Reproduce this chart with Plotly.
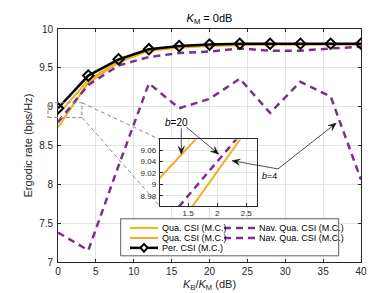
import math
import plotly.graph_objects as go

# ---------------- data ----------------
x_db = [0, 4, 8, 12, 16, 20, 24, 28, 32, 36, 40]
per_csi = [8.98, 9.40, 9.61, 9.74, 9.78, 9.80, 9.81, 9.81, 9.81, 9.81, 9.81]
qua_b20 = [8.90, 9.34, 9.59, 9.73, 9.77, 9.79, 9.80, 9.80, 9.80, 9.80, 9.80]
qua_b4 = [8.735, 9.31, 9.57, 9.72, 9.76, 9.78, 9.79, 9.80, 9.80, 9.80, 9.80]
nav_b20 = [8.80, 9.28, 9.53, 9.64, 9.69, 9.71, 9.75, 9.72, 9.72, 9.75, 9.77]
nav_b4 = [7.38, 7.15, 8.24, 9.30, 8.98, 9.10, 9.36, 8.92, 9.32, 9.13, 8.06]

x_ticks = [0, 5, 10, 15, 20, 25, 30, 35, 40]
y_ticks = [7, 7.5, 8, 8.5, 9, 9.5, 10]
inset_x_ticks = [1.5, 2, 2.5]
inset_y_ticks = [8.98, 9, 9.02, 9.04, 9.06]

legend_labels = ["Qua. CSI (M.C.)", "Qua. CSI (M.C.)", "Per. CSI (M.C.)",
                 "Nav. Qua. CSI (M.C.)", "Nav. Qua. CSI (M.C.)"]

YEL = "#EDB120"
PUR = "#7E2F8E"
BLK = "#000000"
AX = "#262626"
GRID = "#e4e4e4"
FONT = "Liberation Sans, Arial, sans-serif"
DASH = "7px,5px"

fig = go.Figure()

series = [
    ("Qua. CSI (M.C.)", qua_b4, YEL, "solid", 2),
    ("Qua. CSI (M.C.)", qua_b20, YEL, "solid", 2),
    ("Nav. Qua. CSI (M.C.)", nav_b20, PUR, DASH, 2.5),
    ("Nav. Qua. CSI (M.C.)", nav_b4, PUR, DASH, 2.5),
]
for xa, ya in [("x", "y"), ("x2", "y2")]:
    for name, vals, col, dash, w in series:
        fig.add_trace(go.Scatter(x=x_db, y=vals, mode="lines", name=name,
                                 line=dict(color=col, width=w, dash=dash),
                                 xaxis=xa, yaxis=ya, showlegend=False))
    fig.add_trace(go.Scatter(x=x_db, y=per_csi, mode="lines+markers", name="Per. CSI (M.C.)",
                             line=dict(color=BLK, width=2.5),
                             marker=dict(symbol="diamond-open", size=8, color=BLK,
                                         line=dict(width=2, color=BLK)),
                             xaxis=xa, yaxis=ya, showlegend=False))

# pixel -> paper helpers (plot area: x 50..353, y 21..258)
def px(v):
    return (v - 50) / 303.0

def py(v):
    return (258 - v) / 237.0

shapes = []
annotations = []

# zoom rectangle and connectors
shapes.append(dict(type="rect", xref="paper", yref="paper", x0=px(40), x1=px(74), y0=py(111), y1=py(96),
                   line=dict(color="#999999", width=1.2, dash="4px,2px"), layer="above"))
shapes.append(dict(type="line", xref="paper", yref="paper", x0=px(74), y0=py(96), x1=px(151.7), y1=py(133.3),
                   line=dict(color="#555555", width=0.7, dash="4px,3px"), layer="above"))
shapes.append(dict(type="line", xref="paper", yref="paper", x0=px(74), y0=py(111), x1=px(151.7), y1=py(201),
                   line=dict(color="#555555", width=0.7, dash="4px,3px"), layer="above"))

# manual legend (compact, like the original)
lx0, lx1, ly0, ly1 = 112.7, 330.7, 214, 251.7
shapes.append(dict(type="rect", xref="paper", yref="paper", x0=px(lx0), x1=px(lx1), y0=py(ly1), y1=py(ly0),
                   line=dict(color="#333333", width=0.8), fillcolor="white", layer="above"))
rows = [223.3, 233.6, 243.6]
leg_items = [
    (legend_labels[0], YEL, "solid", 2, 122, 150, 152, rows[0]),
    (legend_labels[1], YEL, "solid", 2, 122, 150, 152, rows[1]),
    (legend_labels[2], BLK, "solid", 2.5, 122, 150, 152, rows[2]),
    (legend_labels[3], PUR, DASH, 2.5, 216, 248, 249, rows[0]),
    (legend_labels[4], PUR, DASH, 2.5, 216, 248, 249, rows[1]),
]
for lab, col, dash, w, sx0, sx1, tx, ry in leg_items:
    shapes.append(dict(type="line", xref="paper", yref="paper", x0=px(sx0), x1=px(sx1), y0=py(ry), y1=py(ry),
                       line=dict(color=col, width=w, dash=dash), layer="above"))
    annotations.append(dict(text=lab, xref="paper", yref="paper", x=px(tx), y=py(ry), xanchor="left",
                            yanchor="middle", showarrow=False, font=dict(family=FONT, size=9, color=BLK)))
# diamond marker for Per. CSI legend sample
cx, cy = 136, rows[2]
shapes.append(dict(type="path", xref="paper", yref="paper",
                   path=f"M {px(cx)},{py(cy-4)} L {px(cx+3.5)},{py(cy)} L {px(cx)},{py(cy+4)} L {px(cx-3.5)},{py(cy)} Z",
                   line=dict(color=BLK, width=2), fillcolor="white", layer="above"))

# arrows (shaft + filled head), given in pixel positions (tail -> head)
def arrow(tx, ty, hx, hy, hl=8.0, hw=3.2):
    dx, dy = hx - tx, hy - ty
    L = math.hypot(dx, dy)
    ux, uy = dx / L, dy / L
    bx, by = hx - ux * hl, hy - uy * hl
    nx, ny = -uy, ux
    mx, my = hx - ux * hl * 0.6, hy - uy * hl * 0.6
    shapes.append(dict(type="line", xref="paper", yref="paper", x0=px(tx), y0=py(ty), x1=px(mx), y1=py(my),
                       line=dict(color="#222222", width=0.8), layer="above"))
    p = (f"M {px(hx)},{py(hy)} L {px(bx + nx * hw)},{py(by + ny * hw)} "
         f"L {px(mx)},{py(my)} L {px(bx - nx * hw)},{py(by - ny * hw)} Z")
    shapes.append(dict(type="path", xref="paper", yref="paper", path=p,
                       line=dict(color="#111111", width=0.5), fillcolor="#111111", layer="above"))

arrow(173.3, 122.0, 173.3, 148.3)
arrow(178.3, 120.7, 210.7, 148.3)
arrow(270.0, 163.3, 224.0, 155.0)
arrow(270.0, 163.3, 328.3, 116.7)

annotations.append(dict(text="<i>b</i>=20", xref="paper", yref="paper", x=px(168), y=py(116), showarrow=False,
                        xanchor="center", yanchor="middle", font=dict(family=FONT, size=10, color=BLK)))
annotations.append(dict(text="<i>b</i>=4", xref="paper", yref="paper", x=px(261.7), y=py(171), showarrow=False,
                        xanchor="center", yanchor="middle", font=dict(family=FONT, size=9, color=BLK)))

axis_common = dict(showline=True, linecolor=AX, linewidth=0.8, mirror="ticks", ticks="inside",
                   tickcolor=AX, ticklen=3, tickwidth=0.8, showgrid=True, gridcolor=GRID, gridwidth=0.8,
                   zeroline=False, tickfont=dict(family=FONT, size=10, color=AX))

fig.update_layout(
    width=390, height=293,
    margin=dict(l=50, r=37, t=21, b=35),
    paper_bgcolor="white", plot_bgcolor="white",
    showlegend=False,
    font=dict(family=FONT, color=AX),
    title=dict(text="<i>K</i><sub>M</sub> = 0dB", x=0.5, xref="paper", xanchor="center",
               y=1 - 10 / 293, yanchor="middle", font=dict(family=FONT, size=11, color=BLK)),
    xaxis=dict(axis_common, range=[0, 40], tickvals=x_ticks,
               title=dict(text="<i>K</i><sub>B</sub>/<i>K</i><sub>M</sub> (dB)", standoff=4,
                          font=dict(family=FONT, size=11, color=AX))),
    yaxis=dict(axis_common, range=[7, 10], tickvals=y_ticks, ticklabelstandoff=2,
               title=dict(text="Ergodic rate (bps/Hz)", standoff=4,
                          font=dict(family=FONT, size=11, color=AX))),
    xaxis2=dict(axis_common, domain=[px(151.7), px(249.3)], anchor="y2", range=[1.01, 2.69],
                tickvals=inset_x_ticks, mirror=True, tickfont=dict(family=FONT, size=8, color=AX)),
    yaxis2=dict(axis_common, domain=[py(201), py(133.3)], anchor="x2", range=[8.962, 9.079],
                tickvals=inset_y_ticks, mirror=True, tickfont=dict(family=FONT, size=8, color=AX),
                ticklabelstandoff=1),
    shapes=shapes,
    annotations=annotations,
)

fig.write_html("out.html")
